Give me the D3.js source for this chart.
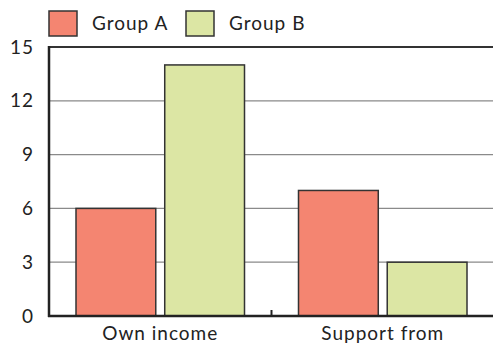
<!DOCTYPE html>
<html>
<head>
<meta charset="utf-8">
<script src="https://cdn.jsdelivr.net/npm/d3@7"></script>
<style>
  body { margin: 0; background: #fff; }
  text { font-family: Lato, "Open Sans", sans-serif; fill: #222; letter-spacing: 1px; }
</style>
</head>
<body>
<script>
var categories = ["Own income", "Support from"];
var groups = ["Group A", "Group B"];
var groupA = [6, 7];
var groupB = [14, 3];
var yTicks = [0, 3, 6, 9, 12, 15];
var colors = ["#f48571", "#dce6a4"];

var screen = {width: 493, height: 349};
var margin = {top: 47, left: 49, bottom: 33, right: 0};

var svg = d3.select("body")
            .append("svg")
            .attr("width", screen.width)
            .attr("height", screen.height);

var xScale = d3.scaleBand()
               .domain(categories)
               .range([margin.left, screen.width + 1]);

var groupScale = d3.scaleBand()
                   .domain(groups)
                   .range([27, xScale.bandwidth() - 27])
                   .paddingInner(0.101);

var yScale = d3.scaleLinear()
               .domain([0, 15])
               .range([screen.height - margin.bottom, margin.top]);

// grid lines
svg.append("g")
   .selectAll("line")
   .data(yTicks.slice(1))
   .enter()
   .append("line")
   .attr("x1", margin.left)
   .attr("x2", screen.width)
   .attr("y1", function(d){ return yScale(d); })
   .attr("y2", function(d){ return yScale(d); })
   .attr("stroke", function(d){ return d === 15 ? "#333" : "#8a8a8a"; })
   .attr("stroke-width", function(d){ return d === 15 ? 2 : 1.3; });

// y axis labels
var yAxis = d3.axisLeft(yScale)
              .tickValues(yTicks)
              .tickSize(0)
              .tickPadding(15);

var yAxisG = svg.append("g")
   .attr("transform", "translate(" + margin.left + ",0)")
   .call(yAxis);
yAxisG.select(".domain").remove();
yAxisG.selectAll("text")
      .style("font-size", "19px")
      .style("font-family", "Lato, sans-serif")
      .attr("fill", "#222");

var data = [];
categories.forEach(function(c, i)
{
  data.push({cat: c, group: groups[0], value: groupA[i], color: colors[0]});
  data.push({cat: c, group: groups[1], value: groupB[i], color: colors[1]});
});

svg.append("g")
   .selectAll("rect")
   .data(data)
   .enter()
   .append("rect")
   .attr("x", function(d){ return xScale(d.cat) + groupScale(d.group); })
   .attr("y", function(d){ return yScale(d.value); })
   .attr("width", groupScale.bandwidth())
   .attr("height", function(d){ return yScale(0) - yScale(d.value); })
   .attr("fill", function(d){ return d.color; })
   .attr("stroke", "#333")
   .attr("stroke-width", 1.5);

// axes lines
svg.append("line")
   .attr("x1", margin.left).attr("x2", margin.left)
   .attr("y1", yScale(15) - 1).attr("y2", yScale(0) + 1)
   .attr("stroke", "#222").attr("stroke-width", 2.5);

svg.append("line")
   .attr("x1", margin.left - 1).attr("x2", screen.width)
   .attr("y1", yScale(0)).attr("y2", yScale(0))
   .attr("stroke", "#222").attr("stroke-width", 2.5);

// divider tick between categories
svg.append("line")
   .attr("x1", xScale(categories[1])).attr("x2", xScale(categories[1]))
   .attr("y1", yScale(0) - 6).attr("y2", yScale(0))
   .attr("stroke", "#222").attr("stroke-width", 2);

// category labels
svg.append("g")
   .selectAll("text")
   .data(categories)
   .enter()
   .append("text")
   .attr("x", function(d){ return xScale(d) + xScale.bandwidth() / 2; })
   .attr("y", yScale(0) + 24)
   .attr("text-anchor", "middle")
   .style("font-size", "19px")
   .text(function(d){ return d; });

// legend
var legendX = [49, 186];
var legend = svg.append("g")
                .selectAll("g")
                .data(groups)
                .enter()
                .append("g")
                .attr("transform", function(d, i){ return "translate(" + legendX[i] + ",11)"; });

legend.append("rect")
      .attr("width", 28)
      .attr("height", 25)
      .attr("fill", function(d, i){ return colors[i]; })
      .attr("stroke", "#333")
      .attr("stroke-width", 1.5);

legend.append("text")
      .attr("x", 43)
      .attr("y", 19)
      .style("font-size", "19px")
      .text(function(d){ return d; });
</script>
</body>
</html>
